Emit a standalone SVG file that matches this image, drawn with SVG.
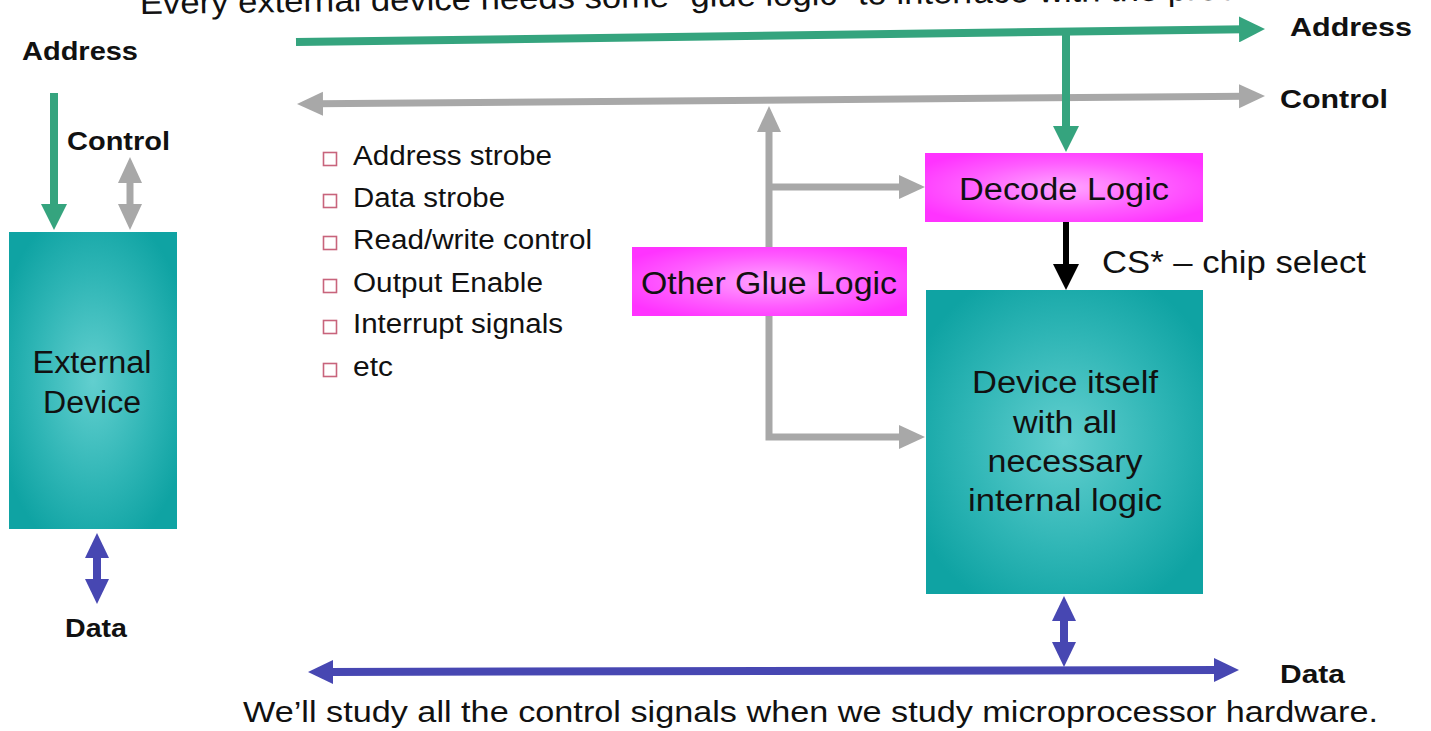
<svg xmlns="http://www.w3.org/2000/svg" width="1431" height="731" viewBox="0 0 1431 731">
  <defs>
    <style>
      .t { font-family: "Liberation Sans", Arial, sans-serif; fill: #111; }
      .b { font-family: "Liberation Sans", Arial, sans-serif; font-weight: bold; fill: #111; }
      .c { text-anchor: middle; }
      .green { stroke: #35a47e; stroke-width: 8; fill: none; }
      .gray { stroke: #a8a8a8; stroke-width: 7; fill: none; }
      .blue { stroke: #4747b2; stroke-width: 8; fill: none; }
      .black { stroke: #000; stroke-width: 6; fill: none; }
      .bullet { fill: none; stroke: #c8647c; stroke-width: 1.6; }
    </style>
    <radialGradient id="teal" cx="50%" cy="50%" r="60%">
      <stop offset="0" stop-color="#62cfcf"/>
      <stop offset="0.6" stop-color="#2eb5b5"/>
      <stop offset="1" stop-color="#0fa3a3"/>
    </radialGradient>
    <radialGradient id="pink" cx="50%" cy="50%" r="60%">
      <stop offset="0" stop-color="#ffa6ff"/>
      <stop offset="0.6" stop-color="#ff5cff"/>
      <stop offset="1" stop-color="#ff33ff"/>
    </radialGradient>
    <marker id="hg" markerUnits="userSpaceOnUse" markerWidth="26" markerHeight="26" refX="6" refY="13" orient="auto-start-reverse">
      <path d="M0,0 L26,13 L0,26 z" fill="#35a47e"/>
    </marker>
    <marker id="hy" markerUnits="userSpaceOnUse" markerWidth="26" markerHeight="26" refX="6" refY="13" orient="auto-start-reverse">
      <path d="M0,1 L26,13 L0,25 z" fill="#a8a8a8"/>
    </marker>
    <marker id="hb" markerUnits="userSpaceOnUse" markerWidth="26" markerHeight="26" refX="6" refY="13" orient="auto-start-reverse">
      <path d="M0,1 L25,13 L0,25 z" fill="#4747b2"/>
    </marker>
    <marker id="hk" markerUnits="userSpaceOnUse" markerWidth="26" markerHeight="26" refX="6" refY="13" orient="auto-start-reverse">
      <path d="M0,0 L26,13 L0,26 z" fill="#000"/>
    </marker>
  </defs>

  <rect width="1431" height="731" fill="#fff"/>

  <!-- heading, tilted slightly and running off the top edge -->
  <text class="t" x="140" y="14" font-size="32" textLength="1180" lengthAdjust="spacingAndGlyphs" transform="rotate(-0.75 140 14)">Every external device needs some “glue logic” to interface with the processor</text>

  <!-- bus and signal connectors -->
  <g id="connectors">
    <!-- control bus -->
    <line class="gray" x1="317" y1="103.8" x2="1245" y2="96.2" marker-start="url(#hy)" marker-end="url(#hy)"/>
    <!-- glue logic tap from control bus -->
    <path class="gray" d="M769,126 L769,437 L905,437" marker-start="url(#hy)" marker-end="url(#hy)"/>
    <path class="gray" d="M769,187 L905,187" marker-end="url(#hy)"/>
    <!-- external device control -->
    <line class="gray" x1="130" y1="177" x2="130" y2="210" marker-start="url(#hy)" marker-end="url(#hy)"/>

    <!-- address bus -->
    <line class="green" x1="296" y1="42" x2="1245" y2="29.3" marker-end="url(#hg)"/>
    <line class="green" x1="1066" y1="33" x2="1066" y2="132" marker-end="url(#hg)"/>
    <line class="green" x1="54" y1="93" x2="54" y2="210" marker-end="url(#hg)"/>

    <!-- chip select -->
    <line class="black" x1="1066" y1="222" x2="1066" y2="270" marker-end="url(#hk)"/>

    <!-- data bus -->
    <line class="blue" x1="327" y1="672" x2="1220" y2="670" marker-start="url(#hb)" marker-end="url(#hb)"/>
    <line class="blue" x1="1064" y1="615" x2="1064" y2="648" marker-start="url(#hb)" marker-end="url(#hb)"/>
    <line class="blue" x1="97" y1="552" x2="97" y2="585" marker-start="url(#hb)" marker-end="url(#hb)"/>
  </g>

  <!-- bus labels -->
  <g id="labels">
    <text class="b" x="22" y="60" font-size="26" textLength="116" lengthAdjust="spacingAndGlyphs">Address</text>
    <text class="b" x="67" y="150" font-size="26" textLength="103" lengthAdjust="spacingAndGlyphs">Control</text>
    <text class="b" x="65" y="637" font-size="26" textLength="62" lengthAdjust="spacingAndGlyphs">Data</text>
    <text class="b" x="1290" y="36" font-size="26" textLength="122" lengthAdjust="spacingAndGlyphs">Address</text>
    <text class="b" x="1280" y="108" font-size="26" textLength="108" lengthAdjust="spacingAndGlyphs">Control</text>
    <text class="b" x="1280" y="683" font-size="26" textLength="65" lengthAdjust="spacingAndGlyphs">Data</text>
    <text class="t" x="1102" y="273" font-size="31" textLength="264" lengthAdjust="spacingAndGlyphs">CS* – chip select</text>
  </g>

  <!-- list of control signals -->
  <g id="signal-list">
    <rect class="bullet" x="323.5" y="152.5" width="13" height="13"/>
    <text class="t" x="353" y="165" font-size="27" textLength="199" lengthAdjust="spacingAndGlyphs">Address strobe</text>
    <rect class="bullet" x="323.5" y="194.5" width="13" height="13"/>
    <text class="t" x="353" y="207" font-size="27" textLength="152" lengthAdjust="spacingAndGlyphs">Data strobe</text>
    <rect class="bullet" x="323.5" y="236.5" width="13" height="13"/>
    <text class="t" x="353" y="249" font-size="27" textLength="239" lengthAdjust="spacingAndGlyphs">Read/write control</text>
    <rect class="bullet" x="323.5" y="279.5" width="13" height="13"/>
    <text class="t" x="353" y="292" font-size="27" textLength="190" lengthAdjust="spacingAndGlyphs">Output Enable</text>
    <rect class="bullet" x="323.5" y="320.5" width="13" height="13"/>
    <text class="t" x="353" y="333" font-size="27" textLength="210" lengthAdjust="spacingAndGlyphs">Interrupt signals</text>
    <rect class="bullet" x="323.5" y="363.5" width="13" height="13"/>
    <text class="t" x="353" y="376" font-size="27" textLength="40" lengthAdjust="spacingAndGlyphs">etc</text>
  </g>

  <g id="external-device">
    <rect x="9" y="232" width="168" height="297" fill="url(#teal)"/>
    <text class="t c" x="92" y="373" font-size="31" textLength="119" lengthAdjust="spacingAndGlyphs">External</text>
    <text class="t c" x="92" y="413" font-size="31" textLength="98" lengthAdjust="spacingAndGlyphs">Device</text>
  </g>

  <g id="decode-logic">
    <rect x="925" y="153" width="278" height="69" fill="url(#pink)"/>
    <text class="t c" x="1064" y="200" font-size="31" textLength="210" lengthAdjust="spacingAndGlyphs">Decode Logic</text>
  </g>

  <g id="other-glue-logic">
    <rect x="632" y="247" width="275" height="69" fill="url(#pink)"/>
    <text class="t c" x="769" y="294" font-size="31" textLength="256" lengthAdjust="spacingAndGlyphs">Other Glue Logic</text>
  </g>

  <g id="device">
    <rect x="926" y="290" width="277" height="304" fill="url(#teal)"/>
    <text class="t c" x="1065" y="393" font-size="31" textLength="186" lengthAdjust="spacingAndGlyphs">Device itself</text>
    <text class="t c" x="1065" y="433" font-size="31" textLength="104" lengthAdjust="spacingAndGlyphs">with all</text>
    <text class="t c" x="1065" y="472" font-size="31" textLength="155" lengthAdjust="spacingAndGlyphs">necessary</text>
    <text class="t c" x="1065" y="511" font-size="31" textLength="194" lengthAdjust="spacingAndGlyphs">internal logic</text>
  </g>

  <text class="t" x="243" y="722" font-size="30" textLength="1135" lengthAdjust="spacingAndGlyphs">We’ll study all the control signals when we study microprocessor hardware.</text>
</svg>
